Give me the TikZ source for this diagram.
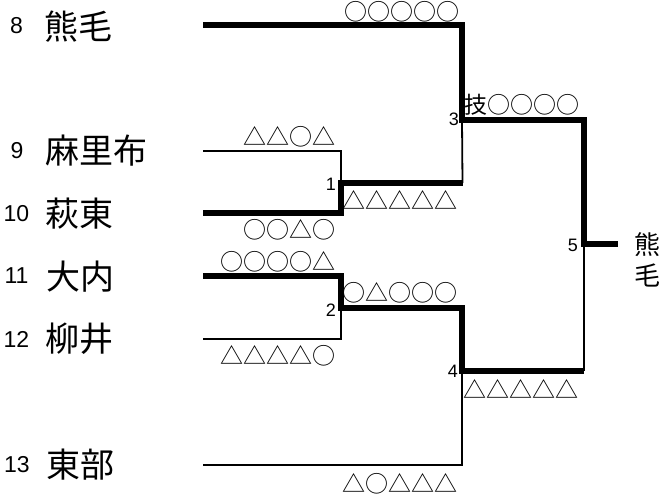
\documentclass[tikz,border=0pt]{standalone}
\usepackage{fontspec}
\setmainfont{Liberation Sans}
\newfontfamily\cjk{Noto Sans CJK JP}
\tikzset{
  thickln/.style={line width=5.5pt, line join=miter, line cap=butt},
  thinln/.style={line width=1.8pt, line join=miter},
  namelbl/.style={font=\cjk\fontsize{34}{34}\selectfont, anchor=west, inner sep=0pt},
  numlbl/.style={font=\fontsize{23}{23}\selectfont, inner sep=0pt},
  scorelbl/.style={font=\cjk\fontsize{23}{23}\selectfont, inner sep=0pt},
  matchlbl/.style={font=\fontsize{18}{18}\selectfont, inner sep=0pt, anchor=east},
  winlbl/.style={font=\cjk\fontsize{26}{26}\selectfont, inner sep=0pt},
}
\begin{document}
\begin{tikzpicture}[x=1pt,y=-1pt]
\useasboundingbox (0,0) rectangle (666,496);
% coordinates
\coordinate (p8) at (203,25);
\coordinate (p9) at (203,151);
\coordinate (p10) at (203,213);
\coordinate (p11) at (203,276);
\coordinate (p12) at (203,339);
\coordinate (p13) at (203,465);
\coordinate (m1a) at (341,151);
\coordinate (m1b) at (341,213);
\coordinate (m1) at (341,183);
\coordinate (m1e) at (462.5,183);
\coordinate (m2a) at (341,276);
\coordinate (m2b) at (341,339);
\coordinate (m2) at (341,308);
\coordinate (m2e) at (462,308);
\coordinate (m3a) at (462,25);
\coordinate (m3) at (462,120);
\coordinate (m3e) at (584,120);
\coordinate (m4b) at (462,465);
\coordinate (m4) at (462,371);
\coordinate (m4e) at (584,371);
\coordinate (m5) at (584,244);
\coordinate (m5e) at (618,244);
% thin lines
\draw[thinln] (p9) -- (m1a) -- (m1);
\draw[thinln] (m1e) -- (m3);
\draw[thinln] (p12) -- (m2b) -- (m2);
\draw[thinln] (p13) -- (m4b) -- (m4);
\draw[thinln] (m4e) -- (m5);
% thick lines
\draw[thickln] (p8) -- (m3a) -- (m3) -- (m3e) -- (m5) -- (m5e);
\draw[thickln] (p10) -- (m1b) -- (m1) -- (m1e);
\draw[thickln] (p11) -- (m2a) -- (m2) -- (m2e) -- (m4) -- (m4e);
% entry numbers
\node[numlbl] (n8) at (16.5,26) {8};
\node[numlbl] (n9) at (17,151) {9};
\node[numlbl] (n10) at (16.5,214) {10};
\node[numlbl] (n11) at (16.5,276) {11};
\node[numlbl] (n12) at (16.5,339) {12};
\node[numlbl] (n13) at (17,465) {13};
% names
\node[namelbl] (t8) at (44,27) {熊毛};
\node[namelbl] (t9) at (45,151) {麻里布};
\node[namelbl] (t10) at (45,214) {萩東};
\node[namelbl] (t11) at (46,277) {大内};
\node[namelbl] (t12) at (45,339) {柳井};
\node[namelbl] (t13) at (46,465) {東部};
% scores
\node[scorelbl] (s1) at (401.5,11.5) {○○○○○};
\node[scorelbl] (s2) at (521.5,105) {技○○○○};
\node[scorelbl] (s3) at (289.5,137) {△△○△};
\node[scorelbl] (s4) at (289,230) {○○△○};
\node[scorelbl] (s5) at (400,199.5) {△△△△△};
\node[scorelbl] (s6) at (278,262) {○○○○△};
\node[scorelbl] (s7) at (400,293) {○△○○○};
\node[scorelbl] (s8) at (278,356) {△△△△○};
\node[scorelbl] (s9) at (521,388.5) {△△△△△};
\node[scorelbl] (s10) at (400,483.5) {△○△△△};
% match numbers
\node[matchlbl] (k1) at (336,184) {1};
\node[matchlbl] (k2) at (336,310) {2};
\node[matchlbl] (k3) at (459,119) {3};
\node[matchlbl] (k4) at (458,371) {4};
\node[matchlbl] (k5) at (578,245) {5};
% winner
\node[winlbl] (w1) at (647,245) {熊};
\node[winlbl] (w2) at (647,275) {毛};
\end{tikzpicture}
\end{document}
